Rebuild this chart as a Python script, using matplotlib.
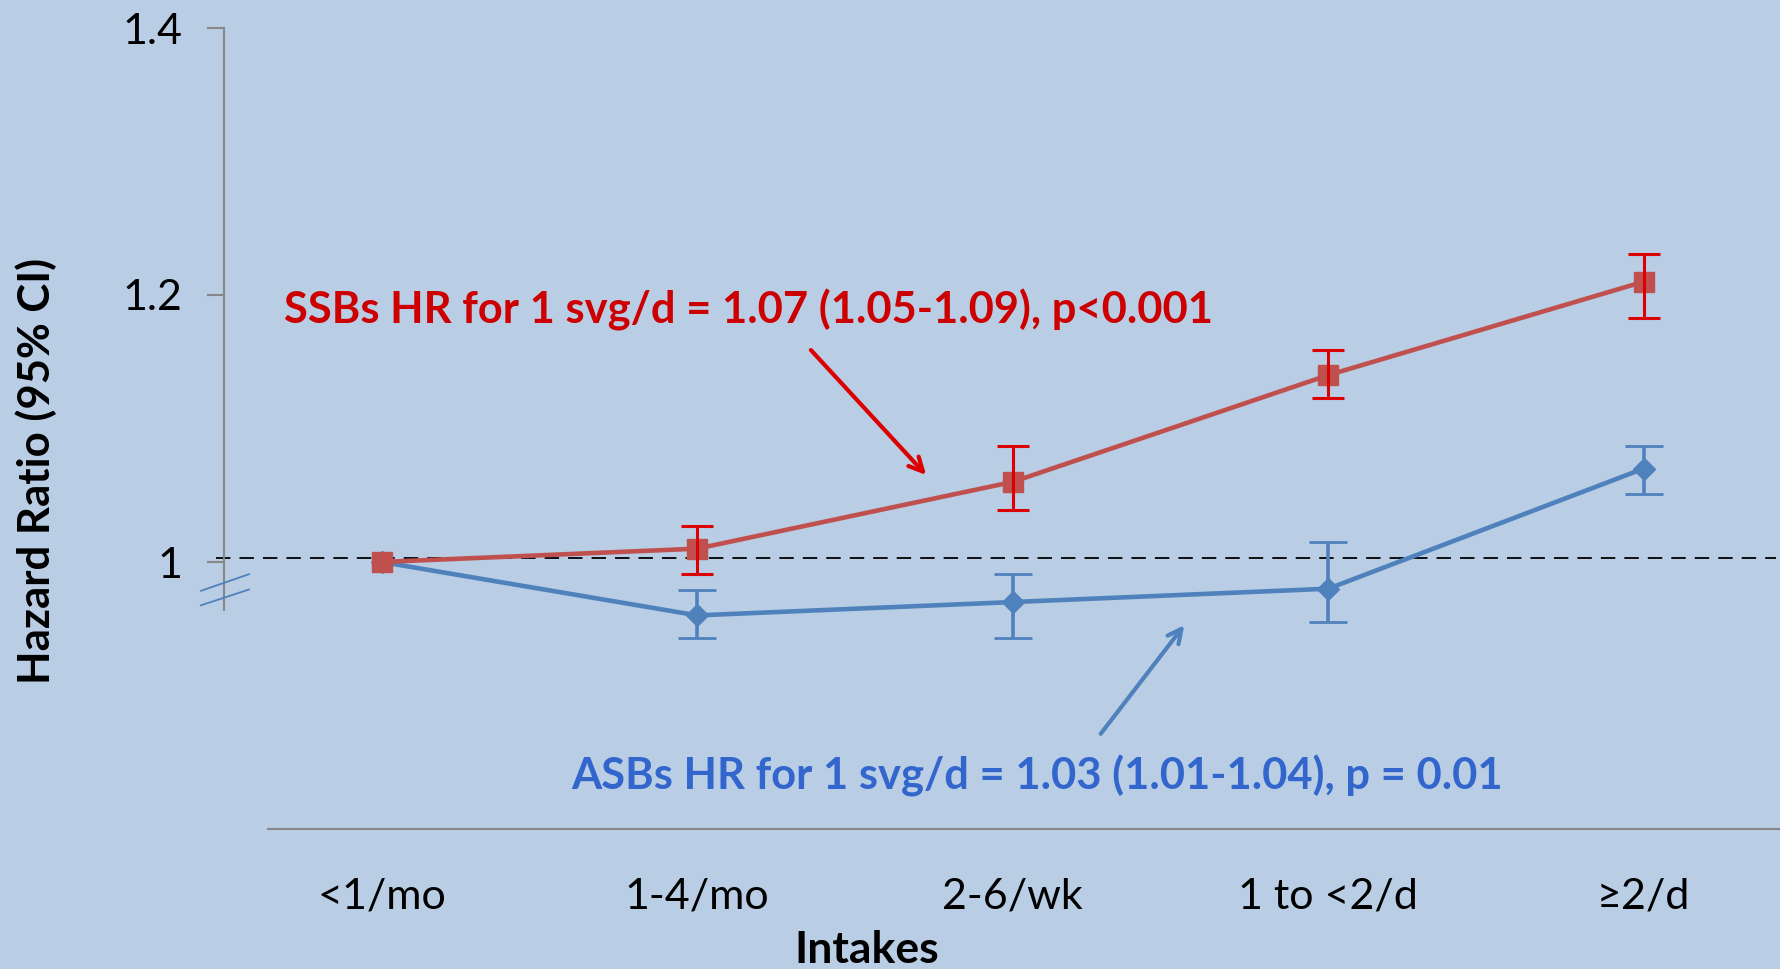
import matplotlib
matplotlib.use("Agg")
import matplotlib.pyplot as plt
from matplotlib.lines import Line2D

categories = ["<1/mo", "1-4/mo", "2-6/wk", "1 to <2/d", "≥2/d"]
ssb_hr = [1.00, 1.01, 1.06, 1.14, 1.21]
ssb_lo = [1.00, 0.991, 1.039, 1.123, 1.183]
ssb_hi = [1.00, 1.027, 1.087, 1.159, 1.231]
asb_hr = [1.00, 0.96, 0.97, 0.98, 1.07]
asb_lo = [1.00, 0.943, 0.943, 0.955, 1.051]
asb_hi = [1.00, 0.979, 0.991, 1.015, 1.087]
yticks = [1.0, 1.2, 1.4]
ytick_labels = ["1", "1.2", "1.4"]

BG = "#B9CDE5"
RED_LINE = "#C0504D"
RED_ERR = "#DD0000"
RED_TEXT = "#CC0000"
BLUE_LINE = "#4F81BD"
BLUE_TEXT = "#3366CC"
AXIS_GRAY = "#878787"
FONT = ["Lato", "DejaVu Sans"]

W, H = 1781, 969
fig = plt.figure(figsize=(W / 100, H / 100), dpi=100, facecolor=BG)
left = 224 / W
bottom = 1 - 829 / H
top = 1 - 28 / H
ax = fig.add_axes([left, bottom, 1 - left, top - bottom])
ax.set_facecolor(BG)

x = list(range(len(categories)))
ax.set_xlim(-0.5, 4.435)
ax.set_ylim(0.8, 1.4)

# reference dashed line
ax.hlines(1.003, -0.525, 4.42, colors="black", linestyles=(0, (8, 5)),
          linewidth=1.3, zorder=2, clip_on=False)

# ASB series
ax.plot(x, asb_hr, color=BLUE_LINE, lw=3.3, marker="D", markersize=11,
        markerfacecolor=BLUE_LINE, markeredgecolor=BLUE_LINE, zorder=3)
asb_err = [[h - l for h, l in zip(asb_hr, asb_lo)], [u - h for h, u in zip(asb_hr, asb_hi)]]
ax.errorbar(x[1:], asb_hr[1:], yerr=[asb_err[0][1:], asb_err[1][1:]], fmt="none",
            ecolor=BLUE_LINE, elinewidth=2.6, capsize=14, capthick=2, zorder=4)

# SSB series
ax.plot(x, ssb_hr, color=RED_LINE, lw=3.3, marker="s", markersize=15,
        markerfacecolor=RED_LINE, markeredgecolor=RED_LINE, zorder=5)
ssb_err = [[h - l for h, l in zip(ssb_hr, ssb_lo)], [u - h for h, u in zip(ssb_hr, ssb_hi)]]
ax.errorbar(x[1:], ssb_hr[1:], yerr=[ssb_err[0][1:], ssb_err[1][1:]], fmt="none",
            ecolor=RED_ERR, elinewidth=2.2, capsize=11.5, capthick=2.2, zorder=6)

# spines
for s in ["top", "right"]:
    ax.spines[s].set_visible(False)
ax.spines["left"].set_color(AXIS_GRAY)
ax.spines["left"].set_linewidth(1.5)
ax.spines["left"].set_bounds(0.964, 1.4)
ax.spines["bottom"].set_color(AXIS_GRAY)
ax.spines["bottom"].set_linewidth(1.5)
ax.spines["bottom"].set_bounds(-0.361, 4.435)

ax.set_yticks(yticks)
ax.set_yticklabels(ytick_labels, fontsize=31, family=FONT)
ax.tick_params(axis="y", length=12, width=1.5, color=AXIS_GRAY, pad=18)
ax.set_xticks(x)
ax.set_xticklabels(categories, fontsize=31, family=FONT)
ax.tick_params(axis="x", length=0, pad=35)

# axis break marks
for y0, y1 in [(590.8, 574.2), (605.3, 589.5)]:
    fig.add_artist(Line2D([201 / W, 249 / W], [1 - y0 / H, 1 - y1 / H],
                          color=BLUE_LINE, lw=1.3))

# labels
fig.text(867 / W, 1 - 950 / H, "Intakes", ha="center", va="center",
         fontsize=32, fontweight="bold", family=FONT)
fig.text(36 / W, 1 - 471 / H, "Hazard Ratio (95% CI)", ha="center", va="center",
         rotation=90, fontsize=31.5, fontweight="bold", family=FONT)

# annotations
fig.text(284 / W, 1 - 310 / H, "SSBs HR for 1 svg/d = 1.07 (1.05-1.09), p<0.001",
         ha="left", va="center", fontsize=31.3, fontweight="bold", color=RED_TEXT, family=FONT)
fig.text(571 / W, 1 - 776 / H, "ASBs HR for 1 svg/d = 1.03 (1.01-1.04), p = 0.01",
         ha="left", va="center", fontsize=31.3, fontweight="bold", color=BLUE_TEXT, family=FONT)

fig.add_artist(matplotlib.patches.FancyArrowPatch(
    (809 / W, 1 - 348 / H), (928 / W, 1 - 477 / H), transform=fig.transFigure,
    arrowstyle="->,head_length=10,head_width=5", color=RED_ERR, lw=3))
fig.add_artist(matplotlib.patches.FancyArrowPatch(
    (1099 / W, 1 - 736 / H), (1186 / W, 1 - 623 / H), transform=fig.transFigure,
    arrowstyle="->,head_length=10,head_width=5", color=BLUE_LINE, lw=3))

fig.savefig("out.png", dpi=100, facecolor=BG)
